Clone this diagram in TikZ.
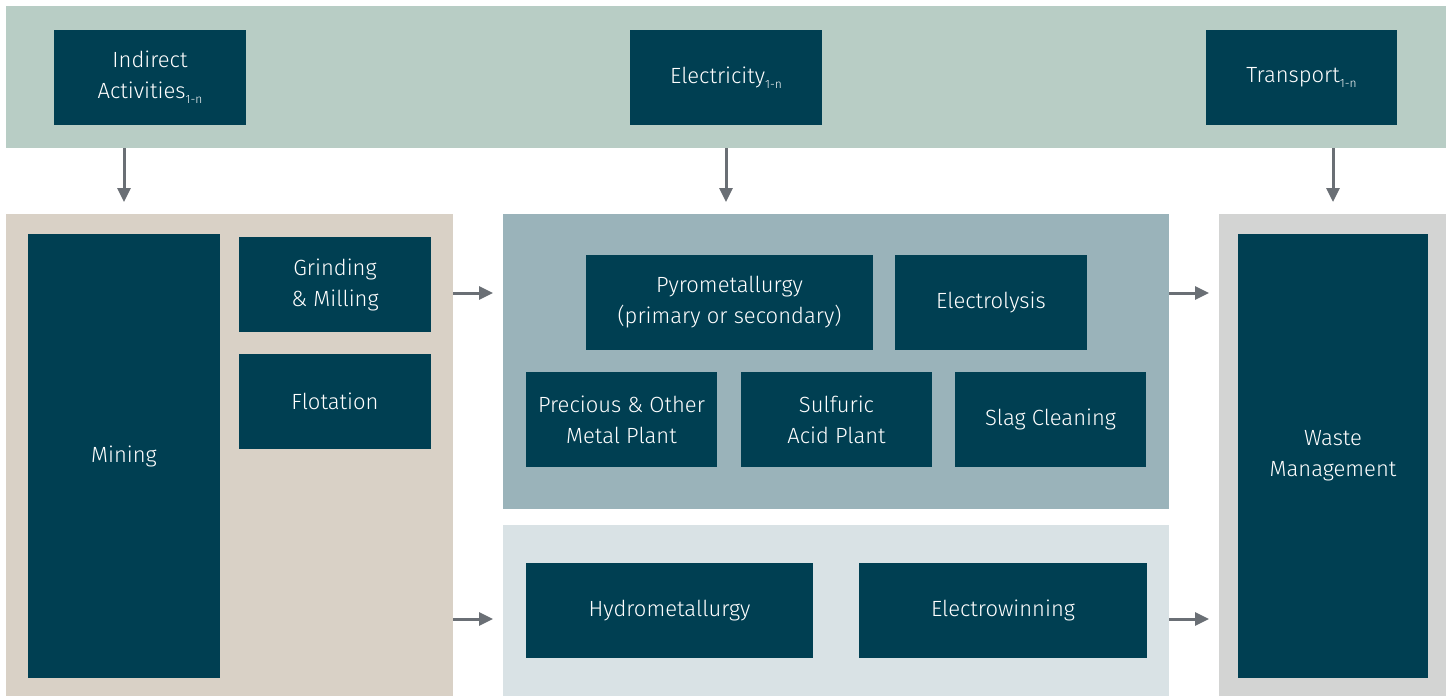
\documentclass[tikz,border=0pt]{standalone}
\usepackage{fontspec}
\setmainfont{Fira Sans}[UprightFont={* Light}]
\usetikzlibrary{arrows.meta}

\definecolor{bandgreen}{HTML}{B8CDC5}
\definecolor{boxteal}{HTML}{003F52}
\definecolor{minebeige}{HTML}{D9D1C6}
\definecolor{pyroblue}{HTML}{9AB3BA}
\definecolor{hydroblue}{HTML}{D9E2E5}
\definecolor{wastegray}{HTML}{D3D4D3}
\definecolor{arrowgray}{HTML}{6A6F75}

\newcommand{\idx}{\raisebox{-5pt}{\fontsize{12}{12}\selectfont 1-n}}

\begin{document}
\begin{tikzpicture}[x=1pt,y=-1pt,
    panel/.style={anchor=north west,inner sep=0pt,outer sep=0pt},
    stage/.style={anchor=north west,fill=boxteal,text=white,inner sep=0pt,outer sep=0pt,
      minimum width=192pt,minimum height=95pt,align=center,font=\fontsize{22}{31}\selectfont},
    flow/.style={draw=arrowgray,line width=3pt,-{Triangle[length=14pt,width=13pt]}}]

  \useasboundingbox (0,0) rectangle (1452,696);

  % panels
  \node[panel,fill=bandgreen,minimum width=1440pt,minimum height=142pt] (band) at (6,6) {};
  \node[panel,fill=minebeige,minimum width=447pt,minimum height=482pt] (minepanel) at (6,214) {};
  \node[panel,fill=pyroblue,minimum width=666pt,minimum height=295pt] (pyropanel) at (503,214) {};
  \node[panel,fill=hydroblue,minimum width=666pt,minimum height=171pt] (hydropanel) at (503,525) {};
  \node[panel,fill=wastegray,minimum width=227pt,minimum height=482pt] (wastepanel) at (1219,214) {};

  % inputs
  \node[stage] (indirect) at (54,30) {Indirect\\Activities\idx};
  \node[stage] (elec) at (630,30) {Electricity\idx};
  \node[stage,minimum width=191pt] (transport) at (1206,30) {Transport\idx};

  % mining
  \node[stage,minimum height=444pt] (mining) at (28,234) {Mining};
  \node[stage] (grind) at (239,237) {Grinding\\\& Milling};
  \node[stage] (flot) at (239,354) {Flotation};

  % smelting
  \node[stage,minimum width=287pt] (pyro) at (586,255) {Pyrometallurgy\\(primary or secondary)};
  \node[stage] (electrolysis) at (895,255) {Electrolysis};
  \node[stage,minimum width=191pt] (precious) at (526,372) {Precious \& Other\\Metal Plant};
  \node[stage,minimum width=191pt] (sulfuric) at (741,372) {Sulfuric\\Acid Plant};
  \node[stage,minimum width=191pt] (slag) at (955,372) {Slag Cleaning};

  % hydro route
  \node[stage,minimum width=287pt] (hydro) at (526,563) {Hydrometallurgy};
  \node[stage,minimum width=288pt] (ewin) at (859,563) {Electrowinning};

  % waste
  \node[stage,minimum width=190pt,minimum height=444pt] (waste) at (1238,234) {Waste\\Management};

  % arrows
  \coordinate (upper) at (0,293);
  \coordinate (lower) at (0,619);

  \draw[flow,shorten >=12pt] (band.south -| mining) -- (minepanel.north -| mining);
  \draw[flow,shorten >=12pt] (band.south -| elec) -- (pyropanel.north -| elec);
  \draw[flow,shorten >=12pt] (band.south -| waste) -- (wastepanel.north -| waste);

  \draw[flow,shorten >=10pt] (upper -| minepanel.east) -- (upper -| pyropanel.west);
  \draw[flow,shorten >=10pt] (lower -| minepanel.east) -- (lower -| hydropanel.west);
  \draw[flow,shorten >=10pt] (upper -| pyropanel.east) -- (upper -| wastepanel.west);
  \draw[flow,shorten >=10pt] (lower -| hydropanel.east) -- (lower -| wastepanel.west);

\end{tikzpicture}
\end{document}
